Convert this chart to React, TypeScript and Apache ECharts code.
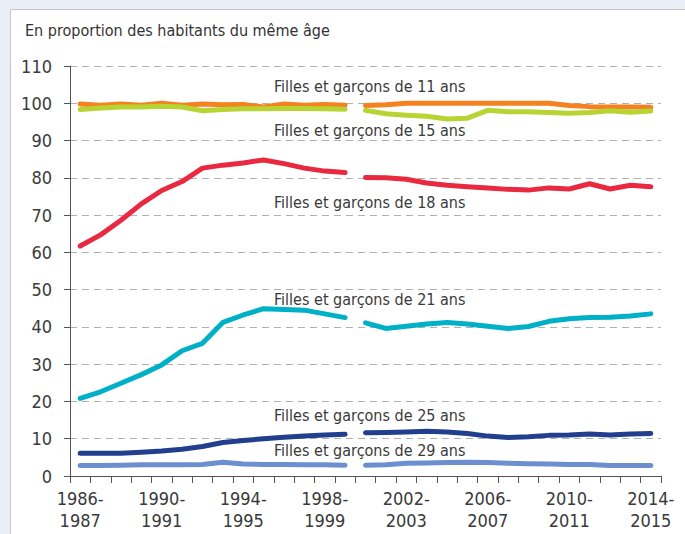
import React, { useEffect, useRef } from "react";
import * as echarts from "echarts";

const categories = [
  "1986-\n1987", "1987-\n1988", "1988-\n1989", "1989-\n1990", "1990-\n1991",
  "1991-\n1992", "1992-\n1993", "1993-\n1994", "1994-\n1995", "1995-\n1996",
  "1996-\n1997", "1997-\n1998", "1998-\n1999", "1999-\n2000", "2000-\n2001",
  "2001-\n2002", "2002-\n2003", "2003-\n2004", "2004-\n2005", "2005-\n2006",
  "2006-\n2007", "2007-\n2008", "2008-\n2009", "2009-\n2010", "2010-\n2011",
  "2011-\n2012", "2012-\n2013", "2013-\n2014", "2014-\n2015",
];

// index after which the series are interrupted
const breakIndex = 13;

const age11 = [99.8, 99.5, 99.8, 99.5, 100, 99.5, 99.8, 99.6, 99.7, 99.0, 99.8, 99.5, 99.7, 99.5,
  99.4, 99.6, 100, 100, 100, 100, 100, 100, 100, 100, 99.4, 99.1, 99.0, 99.0, 98.9];
const age15 = [98.3, 98.7, 99.0, 99.0, 99.2, 99.0, 98.0, 98.3, 98.5, 98.5, 98.6, 98.6, 98.5, 98.4,
  98.1, 97.2, 96.8, 96.5, 95.8, 96.0, 98.1, 97.7, 97.7, 97.5, 97.3, 97.5, 98.0, 97.6, 97.9];
const age18 = [61.7, 64.7, 68.6, 73.0, 76.6, 79.0, 82.6, 83.4, 84.0, 84.8, 83.8, 82.6, 81.8, 81.4,
  80.1, 80.0, 79.6, 78.6, 78.0, 77.6, 77.3, 76.9, 76.7, 77.3, 77.0, 78.4, 77.0, 78.0, 77.6];
const age21 = [20.8, 22.6, 24.9, 27.2, 29.8, 33.6, 35.6, 41.2, 43.2, 44.9, 44.7, 44.5, 43.5, 42.5,
  41.1, 39.6, 40.2, 40.8, 41.2, 40.8, 40.2, 39.6, 40.1, 41.5, 42.2, 42.5, 42.6, 42.9, 43.5];
const age25 = [6.1, 6.1, 6.1, 6.4, 6.7, 7.2, 7.9, 9.0, 9.5, 10.0, 10.4, 10.7, 11.0, 11.2,
  11.6, 11.7, 11.8, 12.0, 11.8, 11.4, 10.7, 10.3, 10.5, 10.9, 11.0, 11.3, 11.0, 11.3, 11.4];
const age29 = [2.8, 2.8, 2.9, 3.0, 3.0, 3.0, 3.1, 3.7, 3.2, 3.1, 3.1, 3.0, 3.0, 2.9,
  2.9, 3.0, 3.4, 3.5, 3.6, 3.7, 3.6, 3.4, 3.3, 3.2, 3.1, 3.1, 2.8, 2.8, 2.8];

const seriesNames = [
  "Filles et garçons de 11 ans",
  "Filles et garçons de 15 ans",
  "Filles et garçons de 18 ans",
  "Filles et garçons de 21 ans",
  "Filles et garçons de 25 ans",
  "Filles et garçons de 29 ans",
];
const seriesData = [age11, age15, age18, age21, age25, age29];
const seriesColors = ["#f58220", "#b8d432", "#e8293f", "#00b0c6", "#213f8d", "#6e8fcf"];
const labelTops = [78, 122, 194, 291, 407, 442];

const yTicks = { min: 0, max: 110, interval: 10 };

const FONT = "'Liberation Sans Narrow', 'DejaVu Sans Condensed', 'Roboto Condensed', sans-serif";

export default function App() {
  const ref = useRef<HTMLDivElement>(null);
  useEffect(() => {
    if (!ref.current) return;
    document.body.style.margin = "0";
    const chart = echarts.init(ref.current, null, { renderer: "svg" });

    const series: any[] = [];
    seriesData.forEach((vals, k) => {
      const partA = vals.map((v, i) => (i <= breakIndex ? v : null));
      const partB = vals.map((v, i) => (i > breakIndex ? v : null));
      [partA, partB].forEach((d) => {
        series.push({
          name: seriesNames[k],
          type: "line",
          data: d,
          showSymbol: false,
          symbol: "none",
          connectNulls: false,
          lineStyle: { color: seriesColors[k], width: 5, cap: "round", join: "round" },
          itemStyle: { color: seriesColors[k] },
          z: 3,
        });
      });
    });

    const graphics: any[] = [
      {
        type: "rect",
        shape: { x: 0, y: 0, width: 685, height: 534 },
        style: { fill: "#e9edf6" },
        z: -10,
        silent: true,
      },
      {
        type: "rect",
        shape: { x: 10.5, y: 9.5, width: 700, height: 600 },
        style: { fill: "#ffffff", stroke: "#c4c4c4", lineWidth: 1 },
        z: -9,
        silent: true,
      },
      {
        type: "text",
        left: 25,
        top: 22,
        style: {
          text: "En proportion des habitants du même âge",
          font: `16px ${FONT}`,
          fill: "#333333",
        },
      },
    ];
    seriesNames.forEach((n, k) => {
      graphics.push({
        type: "text",
        left: 274,
        top: labelTops[k],
        style: { text: n, font: `16px ${FONT}`, fill: "#3a3a3a" },
        z: 5,
      });
    });

    chart.setOption({
      animation: false,
      backgroundColor: "transparent",
      grid: { left: 70, right: 24, top: 66, bottom: 58, containLabel: false },
      graphic: graphics,
      xAxis: {
        type: "category",
        data: categories,
        boundaryGap: true,
        axisLine: { lineStyle: { color: "#555555", width: 1 } },
        axisTick: { show: true, interval: 0, length: 7, lineStyle: { color: "#555555" } },
        axisLabel: {
          interval: 3,
          fontFamily: FONT,
          fontSize: 18,
          color: "#3a3a3a",
          lineHeight: 22,
          margin: 11,
        },
        splitLine: { show: false },
      },
      yAxis: {
        type: "value",
        min: yTicks.min,
        max: yTicks.max,
        interval: yTicks.interval,
        axisLine: { show: true, lineStyle: { color: "#555555", width: 1 } },
        axisTick: { show: true, length: 6, lineStyle: { color: "#555555" } },
        axisLabel: { fontFamily: FONT, fontSize: 18, color: "#3a3a3a", margin: 18 },
        splitLine: { show: true, lineStyle: { color: "#b0b0b0", type: [7, 5], width: 1 } },
      },
      series,
    });
    return () => chart.dispose();
  }, []);
  return <div ref={ref} style={{ position: "absolute", left: 0, top: 0, width: 685, height: 534 }} />;
}
